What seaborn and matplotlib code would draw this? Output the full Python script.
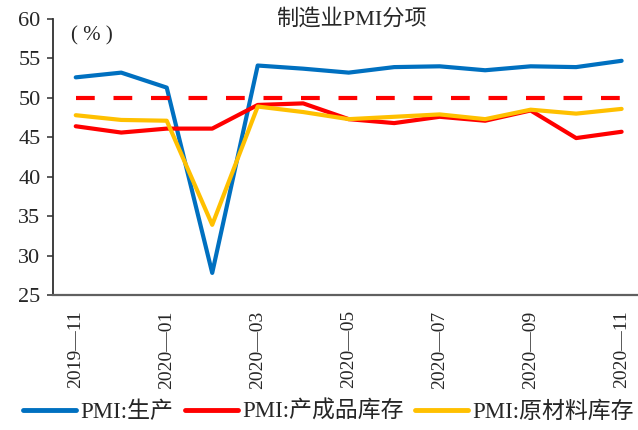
import matplotlib
matplotlib.use("Agg")
import matplotlib.pyplot as plt
from matplotlib.ticker import FixedLocator
import seaborn as sns
import pandas as pd
import numpy as np

months = ["2019-11", "2019-12", "2020-01", "2020-02", "2020-03", "2020-04", "2020-05",
          "2020-06", "2020-07", "2020-08", "2020-09", "2020-10", "2020-11"]
production = [52.6, 53.2, 51.3, 27.8, 54.1, 53.7, 53.2, 53.9, 54.0, 53.5, 54.0, 53.9, 54.7]
finished_inventory = [46.4, 45.6, 46.1, 46.1, 49.1, 49.3, 47.3, 46.8, 47.6, 47.1, 48.4, 44.9, 45.7]
raw_inventory = [47.8, 47.2, 47.1, 33.9, 48.9, 48.2, 47.3, 47.6, 47.9, 47.3, 48.5, 48.0, 48.6]
threshold = [50.0] * len(months)
series_names = ["PMI:生产", "PMI:产成品库存", "PMI:原材料库存"]
colors = ["#0070C0", "#FF0000", "#FFC000"]

sns.set_theme(style="white")
plt.rcParams["font.family"] = ["Liberation Serif", "Noto Sans CJK SC", "DejaVu Sans"]
plt.rcParams["axes.unicode_minus"] = False

pos = np.arange(len(months))
df = pd.concat([
    pd.DataFrame({"pos": pos, "value": vals, "series": name})
    for name, vals in zip(series_names, [production, finished_inventory, raw_inventory])
])

fig = plt.figure(figsize=(6.38, 4.30), dpi=100)
ax = fig.add_axes([53 / 638, 1 - 295 / 430, 1 - 53 / 638, (295 - 19) / 430])

sns.lineplot(data=df, x="pos", y="value", hue="series", hue_order=series_names,
             palette=colors, linewidth=3, ax=ax, legend=False, sort=False)
sns.lineplot(x=pos, y=threshold, color="#FF0000", linewidth=3, ax=ax,
             linestyle=(0, (4.5, 4.5)), legend=False)

ax.set_xlim(-0.5, 12.36)
ax.set_ylim(25, 60)
ax.set_yticks(np.arange(25, 61, 5))
ax.set_yticklabels([str(v) for v in range(25, 61, 5)], fontsize=16)
ax.set_xticks(pos[::2])
ax.set_xticklabels([m.replace("-", "\u2014") for m in months[::2]],
                   rotation=90, fontsize=14)
ax.xaxis.set_minor_locator(FixedLocator(np.arange(1.5, 12, 2)))
ax.tick_params(axis="x", which="major", length=0, pad=11)
ax.tick_params(axis="x", which="minor", direction="in", length=6, width=1.2, color="#404040")
ax.tick_params(axis="y", which="major", direction="out", length=4, width=1.2, color="#404040",
               left=True, pad=5)
ax.set_xlabel("")
ax.set_ylabel("")
for side in ["top", "right"]:
    ax.spines[side].set_visible(False)
ax.spines["left"].set_color("#303030")
ax.spines["bottom"].set_color("#606060")
ax.spines["left"].set_linewidth(1.3)
ax.spines["bottom"].set_linewidth(1.6)

ax.text(0.03, 0.975, "( % )", transform=ax.transAxes, fontsize=15, va="top", ha="left")
fig.text(351 / 638, 1 - 19 / 430, "制造业PMI分项", fontsize=16, ha="center", va="center")

handles = [plt.Line2D([], [], color=c, linewidth=3.5) for c in colors]
fig.legend(handles, series_names, loc="center", bbox_to_anchor=(0.515, 1 - 412 / 430),
           ncol=3, frameon=False, fontsize=16.5, handlelength=2.3, handletextpad=0.2,
           columnspacing=0.5, borderpad=0, borderaxespad=0)

fig.savefig("out.png", dpi=100)
